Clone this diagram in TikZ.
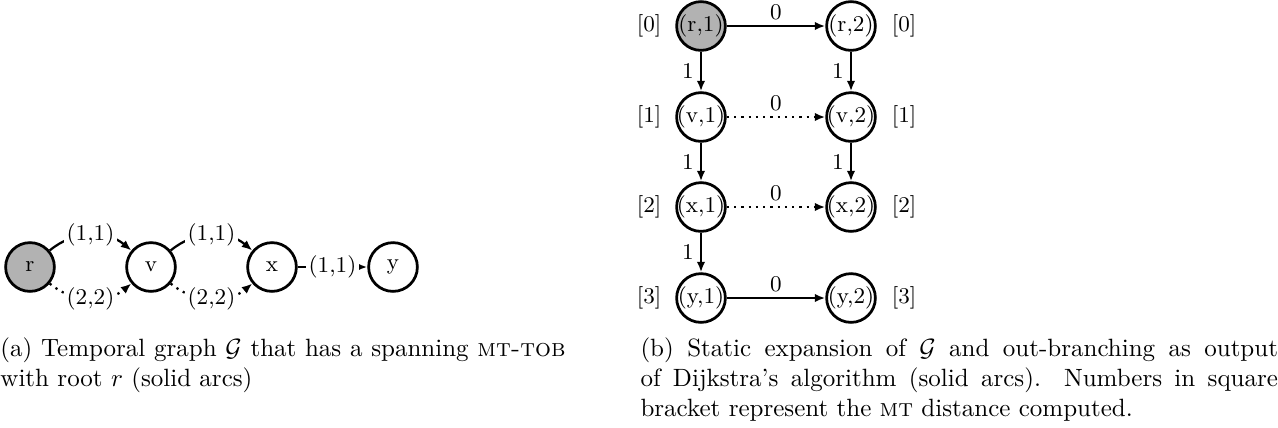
\documentclass[tikz,border=0pt]{standalone}
\usetikzlibrary{arrows.meta,positioning}

\tikzset{
    vtx/.style={circle, draw, line width=1.1pt, minimum size=19.5pt, inner sep=-1pt, font=\small},
    rootvtx/.style={vtx, fill=black!30},
    arc/.style={-{Latex[length=4.2pt,width=3.4pt]}, line width=0.9pt},
    lbl/.style={fill=white, inner sep=1pt, font=\small},
    captxt/.style={anchor=north west, inner sep=0pt, align=justify},
}

\begin{document}
\begin{tikzpicture}[x=0.4pt, y=-0.4pt]
    \useasboundingbox (0,0) rectangle (1278,427);

    % temporal graph
    \node[rootvtx] at (30,267) (r) {r};
    \node[vtx] at (151,267) (v) {v};
    \node[vtx] at (272,267) (x) {x};
    \node[vtx] at (393,267) (y) {y};
    \draw[arc] (r) to[bend left=40] node[lbl] {(1,1)} (v);
    \draw[arc, dotted] (r) to[bend right=40] node[lbl] {(2,2)} (v);
    \draw[arc] (v) to[bend left=40] node[lbl] {(1,1)} (x);
    \draw[arc, dotted] (v) to[bend right=40] node[lbl] {(2,2)} (x);
    \draw[arc] (x) -- node[lbl] {(1,1)} (y);

    % static expansion
    \node[rootvtx] at (701,26) (r1) {(r,1)};
    \node[vtx] at (851,26) (r2) {(r,2)};
    \node[vtx] at (701,117) (v1) {(v,1)};
    \node[vtx] at (851,117) (v2) {(v,2)};
    \node[vtx] at (701,207) (x1) {(x,1)};
    \node[vtx] at (851,207) (x2) {(x,2)};
    \node[vtx] at (701,298) (y1) {(y,1)};
    \node[vtx] at (851,298) (y2) {(y,2)};
    \foreach \n/\d in {r/0, v/1, x/2, y/3} {
        \node[font=\small, left=2pt of \n1] {[\d]};
        \node[font=\small, right=2.5pt of \n2] {[\d]};
    }
    \draw[arc] (r1) -- node[above, inner sep=2pt, font=\small] {0} (r2);
    \draw[arc, dotted] (v1) -- node[above, inner sep=2pt, font=\small] {0} (v2);
    \draw[arc, dotted] (x1) -- node[above, inner sep=2pt, font=\small] {0} (x2);
    \draw[arc] (y1) -- node[above, inner sep=2pt, font=\small] {0} (y2);
    \draw[arc] (r1) -- node[left, inner sep=2.5pt, font=\small] {1} (v1);
    \draw[arc] (v1) -- node[left, inner sep=2.5pt, font=\small] {1} (x1);
    \draw[arc] (x1) -- node[left, inner sep=2.5pt, font=\small] {1} (y1);
    \draw[arc] (r2) -- node[left, inner sep=2.5pt, font=\small] {1} (v2);
    \draw[arc] (v2) -- node[left, inner sep=2.5pt, font=\small] {1} (x2);

    % captions
    \node[captxt, text width=226pt] at (0,337) (capa)
        {(a) Temporal graph $\mathcal{G}$ that has a spanning \textsc{mt-tob}\linebreak with root $r$ (solid arcs)};
    \node[captxt, text width=255pt] at (640,337) (capb)
        {(b) Static expansion of $\mathcal{G}$ and out-branching as output\linebreak of Dijkstra's algorithm (solid arcs). Numbers in square\linebreak bracket represent the \textsc{mt} distance computed.};
\end{tikzpicture}
\end{document}
